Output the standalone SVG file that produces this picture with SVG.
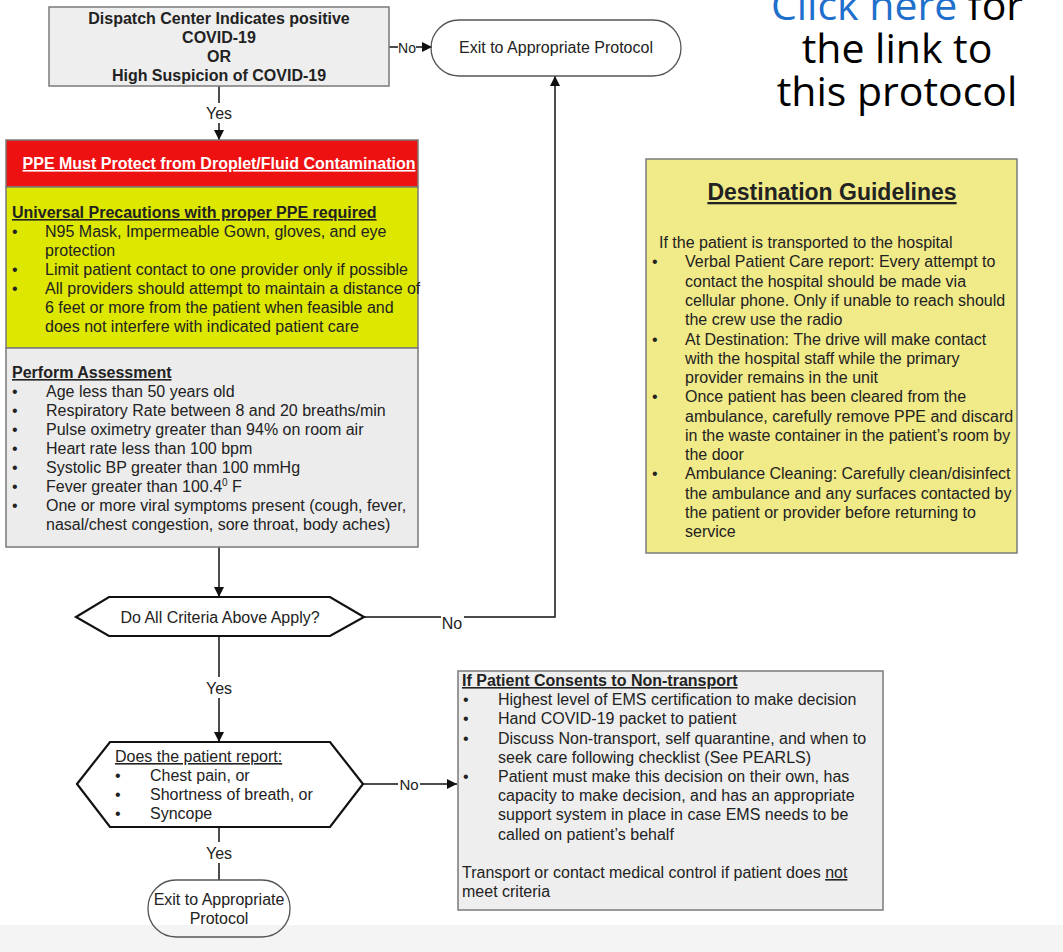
<svg xmlns="http://www.w3.org/2000/svg" width="1063" height="952" viewBox="0 0 1063 952">
<defs>
<style>
.t{font-family:"Liberation Sans",Arial,sans-serif;font-size:16px;fill:#222}
.b{font-weight:bold}
.u{text-decoration:underline}
.m{text-anchor:middle}
.big{font-family:"Open Sans","Noto Sans",sans-serif;font-size:41px;fill:#000}
.box{stroke:#7a7a7a;stroke-width:1.5}
.ln{fill:none;stroke:#111;stroke-width:1.5}
.shape{fill:#fff;stroke:#111;stroke-width:2.2}
.term{fill:none;stroke:#555;stroke-width:1.3}
</style>
<marker id="arr" viewBox="0 0 10 10" refX="10" refY="5" markerUnits="userSpaceOnUse" markerWidth="13" markerHeight="10" orient="auto">
<path d="M0,0 L10,5 L0,10 z" fill="#111"/>
</marker>
</defs>
<rect width="1063" height="952" fill="#fff"/>
<rect x="0" y="925" width="1063" height="27" fill="#f4f4f4"/>

<g id="connectors">
<path class="ln" d="M389,47 H398"/>
<path class="ln" d="M416,47 H432" marker-end="url(#arr)"/>
<path class="ln" d="M219,86 V103"/>
<path class="ln" d="M219,123 V140" marker-end="url(#arr)"/>
<path class="ln" d="M219,547 V597" marker-end="url(#arr)"/>
<path class="ln" d="M364,617 H441"/>
<path class="ln" d="M464,617 H555 V76" marker-end="url(#arr)"/>
<path class="ln" d="M219,636 V677"/>
<path class="ln" d="M219,698 V742" marker-end="url(#arr)"/>
<path class="ln" d="M363,784 H398"/>
<path class="ln" d="M420,784 H457" marker-end="url(#arr)"/>
<path class="ln" d="M219,827 V842"/>
<path class="ln" d="M219,863 V880"/>
<text class="t" x="407" y="53" style="font-size:14px" text-anchor="middle">No</text>
<text class="t m" x="219" y="119">Yes</text>
<text class="t m" x="452" y="629">No</text>
<text class="t m" x="219" y="694">Yes</text>
<text class="t m" x="409" y="790" style="font-size:15px">No</text>
<text class="t m" x="219" y="859">Yes</text>
</g>

<g id="dispatch">
<rect class="box" x="49" y="7" width="340" height="79" fill="#eeeeee"/>
<text class="t b m" x="219" y="24">Dispatch Center Indicates positive</text>
<text class="t b m" x="219" y="43">COVID-19</text>
<text class="t b m" x="219" y="62">OR</text>
<text class="t b m" x="219" y="81">High Suspicion of COVID-19</text>
</g>

<g id="exit-top">
<rect class="term" x="431" y="20" width="250" height="56" rx="28"/>
<text class="t m" x="556" y="53">Exit to Appropriate Protocol</text>
</g>

<g id="link-note">
<text class="big" text-anchor="middle"><tspan x="897" y="20"><tspan fill="#1f6fcc">Click here</tspan> for</tspan><tspan x="897" y="63">the link to</tspan><tspan x="897" y="106">this protocol</tspan></text>
</g>

<g id="ppe">
<rect class="box" x="6" y="140" width="412" height="47" fill="#ee1111"/>
<text class="t b u m" x="219" y="169" style="fill:#fff">PPE Must Protect from Droplet/Fluid Contamination</text>
</g>

<g id="precautions">
<rect class="box" x="6" y="187" width="412" height="161" fill="#dde700"/>
<text class="t b u" x="12" y="218">Universal Precautions with proper PPE required</text>
<text class="t" x="12" y="237">•</text>
<text class="t" x="45" y="237">N95 Mask, Impermeable Gown, gloves, and eye</text>
<text class="t" x="45" y="256">protection</text>
<text class="t" x="12" y="275">•</text>
<text class="t" x="45" y="275">Limit patient contact to one provider only if possible</text>
<text class="t" x="12" y="294">•</text>
<text class="t" x="45" y="294">All providers should attempt to maintain a distance of</text>
<text class="t" x="45" y="313">6 feet or more from the patient when feasible and</text>
<text class="t" x="45" y="332">does not interfere with indicated patient care</text>
</g>

<g id="assessment">
<rect class="box" x="6" y="348" width="412" height="199" fill="#ececec"/>
<text class="t b u" x="12" y="378">Perform Assessment</text>
<text class="t" x="12" y="397">•</text>
<text class="t" x="46" y="397">Age less than 50 years old</text>
<text class="t" x="12" y="416">•</text>
<text class="t" x="46" y="416">Respiratory Rate between 8 and 20 breaths/min</text>
<text class="t" x="12" y="435">•</text>
<text class="t" x="46" y="435">Pulse oximetry greater than 94% on room air</text>
<text class="t" x="12" y="454">•</text>
<text class="t" x="46" y="454">Heart rate less than 100 bpm</text>
<text class="t" x="12" y="473">•</text>
<text class="t" x="46" y="473">Systolic BP greater than 100 mmHg</text>
<text class="t" x="12" y="492">•</text>
<text class="t" x="46" y="492">Fever greater than 100.4<tspan dy="-6" style="font-size:10px">0</tspan><tspan dy="6"> F</tspan></text>
<text class="t" x="12" y="511">•</text>
<text class="t" x="46" y="511">One or more viral symptoms present (cough, fever,</text>
<text class="t" x="46" y="530">nasal/chest congestion, sore throat, body aches)</text>
</g>

<g id="destination">
<rect class="box" x="646" y="159" width="371" height="394" fill="#f1ea88"/>
<text class="t b u m" x="832" y="200" style="font-size:23px">Destination Guidelines</text>
<text class="t" x="659" y="248">If the patient is transported to the hospital</text>
<text class="t" x="652" y="267">•</text>
<text class="t" x="685" y="267">Verbal Patient Care report: Every attempt to</text>
<text class="t" x="685" y="287">contact the hospital should be made via</text>
<text class="t" x="685" y="306">cellular phone.  Only if unable to reach should</text>
<text class="t" x="685" y="325">the crew use the radio</text>
<text class="t" x="652" y="345">•</text>
<text class="t" x="685" y="345">At Destination: The drive will make contact</text>
<text class="t" x="685" y="364">with the hospital staff while the primary</text>
<text class="t" x="685" y="383">provider remains in the unit</text>
<text class="t" x="652" y="402">•</text>
<text class="t" x="685" y="402">Once patient has been cleared from the</text>
<text class="t" x="685" y="422">ambulance, carefully remove PPE and discard</text>
<text class="t" x="685" y="441">in the waste container in the patient’s room by</text>
<text class="t" x="685" y="460">the door</text>
<text class="t" x="652" y="479">•</text>
<text class="t" x="685" y="479">Ambulance Cleaning: Carefully clean/disinfect</text>
<text class="t" x="685" y="499">the ambulance and any surfaces contacted by</text>
<text class="t" x="685" y="518">the patient or provider before returning to</text>
<text class="t" x="685" y="537">service</text>
</g>

<g id="criteria-decision">
<polygon class="shape" points="76,617 109,597 330,597 364,617 330,636 109,636"/>
<text class="t m" x="220" y="623">Do All Criteria Above Apply?</text>
</g>

<g id="symptoms-decision">
<polygon class="shape" points="77,784 110,742 330,742 363,784 330,827 110,827"/>
<text class="t u" x="115" y="762">Does the patient report:</text>
<text class="t" x="115" y="781">•</text>
<text class="t" x="150" y="781">Chest pain, or</text>
<text class="t" x="115" y="800">•</text>
<text class="t" x="150" y="800">Shortness of breath, or</text>
<text class="t" x="115" y="819">•</text>
<text class="t" x="150" y="819">Syncope</text>
</g>

<g id="non-transport">
<rect class="box" x="458" y="671" width="425" height="239" fill="#eeeeee"/>
<text class="t b u" x="462" y="686">If Patient Consents to Non-transport</text>
<text class="t" x="463" y="705">•</text>
<text class="t" x="498" y="705">Highest level of EMS certification to make decision</text>
<text class="t" x="463" y="724">•</text>
<text class="t" x="498" y="724">Hand COVID-19 packet to patient</text>
<text class="t" x="463" y="744">•</text>
<text class="t" x="498" y="744">Discuss Non-transport, self quarantine, and when to</text>
<text class="t" x="498" y="763">seek care following checklist (See PEARLS)</text>
<text class="t" x="463" y="782">•</text>
<text class="t" x="498" y="782">Patient must make this decision on their own, has</text>
<text class="t" x="498" y="801">capacity to make decision, and has an appropriate</text>
<text class="t" x="498" y="820">support system in place in case EMS needs to be</text>
<text class="t" x="498" y="840">called on patient’s behalf</text>
<text class="t" x="462" y="878">Transport or contact medical control if patient does <tspan class="u">not</tspan></text>
<text class="t" x="462" y="897">meet criteria</text>
</g>

<g id="exit-bottom">
<rect class="term" x="148" y="880" width="142" height="57" rx="28"/>
<text class="t m" x="219" y="905">Exit to Appropriate</text>
<text class="t m" x="219" y="924">Protocol</text>
</g>
</svg>
